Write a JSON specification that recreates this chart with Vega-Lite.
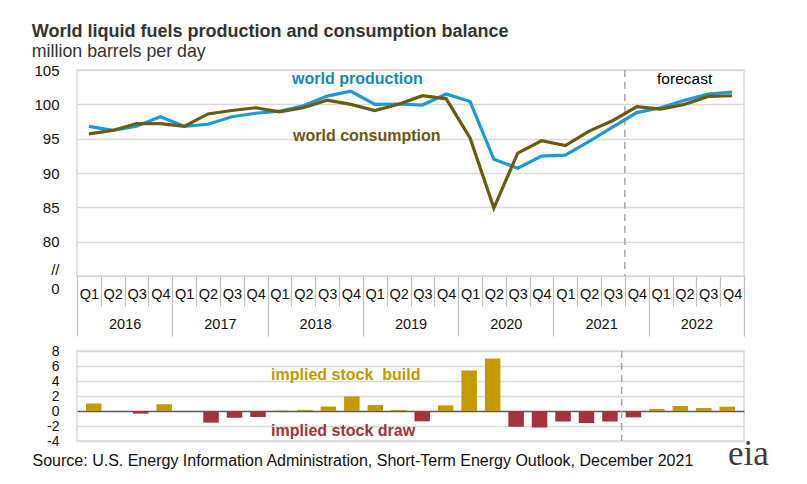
{
  "$schema": "https://vega.github.io/schema/vega-lite/v6.json",
  "padding": {"left": 31, "top": 23, "right": 10, "bottom": 5},
  "config": {
    "font": "Liberation Sans",
    "view": {"stroke": "#d9d9d9", "strokeWidth": 1.5},
    "axis": {"labelFont": "Liberation Sans", "labelColor": "#111"}
  },
  "title": {
    "text": "World liquid fuels production and consumption balance",
    "subtitle": "million barrels per day",
    "anchor": "start",
    "frame": "bounds",
    "font": "Liberation Sans",
    "fontSize": 18,
    "fontWeight": "bold",
    "color": "#333333",
    "subtitleFont": "Liberation Sans",
    "subtitleFontSize": 17.8,
    "subtitleColor": "#333333",
    "subtitlePadding": 2,
    "offset": 1
  },
  "data": {
    "values": [
      {"i": 0, "year": 2016, "quarter": "Q1", "production": 96.8, "consumption": 95.7, "balance": 1.0},
      {"i": 1, "year": 2016, "quarter": "Q2", "production": 96.2, "consumption": 96.2, "balance": 0.0},
      {"i": 2, "year": 2016, "quarter": "Q3", "production": 96.8, "consumption": 97.2, "balance": -0.35},
      {"i": 3, "year": 2016, "quarter": "Q4", "production": 98.2, "consumption": 97.2, "balance": 0.9},
      {"i": 4, "year": 2017, "quarter": "Q1", "production": 96.8, "consumption": 96.8, "balance": 0.0},
      {"i": 5, "year": 2017, "quarter": "Q2", "production": 97.1, "consumption": 98.6, "balance": -1.55},
      {"i": 6, "year": 2017, "quarter": "Q3", "production": 98.2, "consumption": 99.1, "balance": -0.9},
      {"i": 7, "year": 2017, "quarter": "Q4", "production": 98.7, "consumption": 99.5, "balance": -0.8},
      {"i": 8, "year": 2018, "quarter": "Q1", "production": 99.0, "consumption": 98.9, "balance": 0.05},
      {"i": 9, "year": 2018, "quarter": "Q2", "production": 99.8, "consumption": 99.5, "balance": 0.15},
      {"i": 10, "year": 2018, "quarter": "Q3", "production": 101.2, "consumption": 100.6, "balance": 0.6},
      {"i": 11, "year": 2018, "quarter": "Q4", "production": 101.9, "consumption": 100.0, "balance": 1.95},
      {"i": 12, "year": 2019, "quarter": "Q1", "production": 100.0, "consumption": 99.1, "balance": 0.8},
      {"i": 13, "year": 2019, "quarter": "Q2", "production": 100.05, "consumption": 100.0, "balance": 0.13},
      {"i": 14, "year": 2019, "quarter": "Q3", "production": 99.9, "consumption": 101.25, "balance": -1.38},
      {"i": 15, "year": 2019, "quarter": "Q4", "production": 101.5, "consumption": 100.8, "balance": 0.75},
      {"i": 16, "year": 2020, "quarter": "Q1", "production": 100.4, "consumption": 95.1, "balance": 5.4},
      {"i": 17, "year": 2020, "quarter": "Q2", "production": 92.0, "consumption": 84.9, "balance": 7.0},
      {"i": 18, "year": 2020, "quarter": "Q3", "production": 90.7, "consumption": 92.9, "balance": -2.1},
      {"i": 19, "year": 2020, "quarter": "Q4", "production": 92.45, "consumption": 94.7, "balance": -2.2},
      {"i": 20, "year": 2021, "quarter": "Q1", "production": 92.6, "consumption": 94.0, "balance": -1.4},
      {"i": 21, "year": 2021, "quarter": "Q2", "production": 94.6, "consumption": 96.1, "balance": -1.6},
      {"i": 22, "year": 2021, "quarter": "Q3", "production": 96.7, "consumption": 97.65, "balance": -1.4},
      {"i": 23, "year": 2021, "quarter": "Q4", "production": 98.8, "consumption": 99.65, "balance": -0.85},
      {"i": 24, "year": 2022, "quarter": "Q1", "production": 99.5, "consumption": 99.3, "balance": 0.27},
      {"i": 25, "year": 2022, "quarter": "Q2", "production": 100.6, "consumption": 100.0, "balance": 0.67},
      {"i": 26, "year": 2022, "quarter": "Q3", "production": 101.5, "consumption": 101.15, "balance": 0.4},
      {"i": 27, "year": 2022, "quarter": "Q4", "production": 101.8, "consumption": 101.25, "balance": 0.58}
    ]
  },
  "bounds": "flush",
  "spacing": 75,
  "vconcat": [
    {
      "width": 667,
      "height": 206,
      "layer": [
        {
          "data": {"values": [{"forecastStart": 22.5}]},
          "mark": {"type": "rule", "color": "#a6a6a6", "strokeWidth": 1.5, "strokeDash": [7, 5]},
          "encoding": {
            "x": {"field": "forecastStart", "type": "quantitative", "scale": {"domain": [-0.5, 27.5], "nice": false, "zero": false}}
          }
        },
        {
          "mark": {"type": "line", "color": "#1b9ad6", "strokeWidth": 3.2},
          "encoding": {
            "x": {
              "field": "i", "type": "quantitative",
              "scale": {"domain": [-0.5, 27.5], "nice": false, "zero": false},
              "axis": {
                "title": null,
                "values": [-0.5,0,0.5,1,1.5,2,2.5,3,3.5,4,4.5,5,5.5,6,6.5,7,7.5,8,8.5,9,9.5,10,10.5,11,11.5,12,12.5,13,13.5,14,14.5,15,15.5,16,16.5,17,17.5,18,18.5,19,19.5,20,20.5,21,21.5,22,22.5,23,23.5,24,24.5,25,25.5,26,26.5,27,27.5],
                "tickCount": 200,
                "labelExpr": "datum.value % 1 == 0 ? 'Q' + (datum.value % 4 + 1) : ((datum.value - 1.5) % 4 == 0 ? '' + (2016 + (datum.value - 1.5) / 4) : '')",
                "tickSize": {"expr": "datum.value % 1 == 0 ? 0 : ((datum.value + 0.5) % 4 == 0 ? 60 : 30)"},
                "tickColor": "#bfbfbf",
                "tickWidth": 1.2,
                "labelPadding": 18,
                "labelBaseline": "middle",
                "labelFontSize": 14.5,
                "labelOverlap": false,
                "labelFlush": false,
                "labelBound": false,
                "domain": false,
                "grid": false
              }
            },
            "y": {
              "field": "production", "type": "quantitative",
              "scale": {"domain": [75, 105], "nice": false, "zero": false},
              "axis": {
                "title": null,
                "values": [75, 76, 80, 85, 90, 95, 100, 105],
                "tickCount": 100,
                "labelExpr": "datum.value == 75 ? '0' : (datum.value == 76 ? '//' : '' + datum.value)",
                "labelOffset": {"condition": {"test": "datum.value == 75", "value": 12}, "value": 0},
                "gridOpacity": {"condition": {"test": "datum.value == 76", "value": 0}, "value": 1},
                "gridColor": "#d9d9d9",
                "gridWidth": 1.5,
                "ticks": false,
                "domain": false,
                "labelFontSize": 15,
                "labelPadding": 18,
                "labelOverlap": false
              }
            }
          }
        },
        {
          "mark": {"type": "line", "color": "#6b5a12", "strokeWidth": 3.2},
          "encoding": {
            "x": {"field": "i", "type": "quantitative"},
            "y": {"field": "consumption", "type": "quantitative"}
          }
        },
        {
          "data": {"values": [{"label": "world production", "i": 8.53, "v": 103.68}]},
          "mark": {"type": "text", "align": "left", "baseline": "middle", "fontSize": 16, "fontWeight": "bold", "color": "#1488bf"},
          "encoding": {
            "x": {"field": "i", "type": "quantitative"},
            "y": {"field": "v", "type": "quantitative"},
            "text": {"field": "label"}
          }
        },
        {
          "data": {"values": [{"label": "world consumption", "i": 8.57, "v": 95.44}]},
          "mark": {"type": "text", "align": "left", "baseline": "middle", "fontSize": 16, "fontWeight": "bold", "color": "#6b5a12"},
          "encoding": {
            "x": {"field": "i", "type": "quantitative"},
            "y": {"field": "v", "type": "quantitative"},
            "text": {"field": "label"}
          }
        },
        {
          "data": {"values": [{"label": "forecast", "i": 23.85, "v": 103.68}]},
          "mark": {"type": "text", "align": "left", "baseline": "middle", "fontSize": 15.5, "color": "#000000"},
          "encoding": {
            "x": {"field": "i", "type": "quantitative"},
            "y": {"field": "v", "type": "quantitative"},
            "text": {"field": "label"}
          }
        }
      ]
    },
    {
      "width": 667,
      "height": 90,
      "title": {
        "text": "Source: U.S. Energy Information Administration, Short-Term Energy Outlook, December 2021",
        "orient": "bottom",
        "anchor": "start",
        "frame": "bounds",
        "dx": -14,
        "font": "Liberation Sans",
        "fontSize": 16,
        "fontWeight": "normal",
        "color": "#111111",
        "offset": -19
      },
      "layer": [
        {
          "data": {"values": [{"forecastStart": 22.5}]},
          "mark": {"type": "rule", "color": "#a6a6a6", "strokeWidth": 1.5, "strokeDash": [7, 5]},
          "encoding": {
            "x": {"field": "forecastStart", "type": "quantitative", "scale": {"domain": [-0.5, 27.5], "nice": false, "zero": false}, "axis": null}
          }
        },
        {
          "mark": {"type": "bar", "width": 15.5},
          "encoding": {
            "x": {"field": "i", "type": "quantitative", "axis": null},
            "y": {
              "field": "balance", "type": "quantitative",
              "scale": {"domain": [-4, 8], "nice": false},
              "axis": {
                "title": null,
                "values": [-4, -2, 0, 2, 4, 6, 8],
                "tickCount": 100,
                "labelExpr": "'' + datum.value",
                "gridColor": {"condition": {"test": "datum.value == 0", "value": "#595959"}, "value": "#d9d9d9"},
                "gridWidth": 1.5,
                "ticks": false,
                "domain": false,
                "labelFontSize": 14,
                "labelPadding": 18,
                "labelOverlap": false,
                "labelFlush": false
              }
            },
            "color": {"condition": {"test": "datum.balance < 0", "value": "#a33340"}, "value": "#c49a00"}
          }
        },
        {
          "data": {"values": [{"label": "implied stock \u00a0build", "i": 7.56, "v": 4.8}]},
          "mark": {"type": "text", "align": "left", "baseline": "middle", "fontSize": 16, "fontWeight": "bold", "color": "#c49a00"},
          "encoding": {
            "x": {"field": "i", "type": "quantitative"},
            "y": {"field": "v", "type": "quantitative"},
            "text": {"field": "label"}
          }
        },
        {
          "data": {"values": [{"label": "implied stock draw", "i": 7.56, "v": -2.67}]},
          "mark": {"type": "text", "align": "left", "baseline": "middle", "fontSize": 16, "fontWeight": "bold", "color": "#a33340"},
          "encoding": {
            "x": {"field": "i", "type": "quantitative"},
            "y": {"field": "v", "type": "quantitative"},
            "text": {"field": "label"}
          }
        },
        {
          "data": {"values": [{"label": "eia", "i": 27.9, "v": -7.24}]},
          "mark": {"type": "text", "align": "center", "baseline": "alphabetic", "fontSize": 35, "font": "Liberation Serif", "color": "#3d3d3d"},
          "encoding": {
            "x": {"field": "i", "type": "quantitative"},
            "y": {"field": "v", "type": "quantitative"},
            "text": {"field": "label"}
          }
        }
      ]
    }
  ]
}
